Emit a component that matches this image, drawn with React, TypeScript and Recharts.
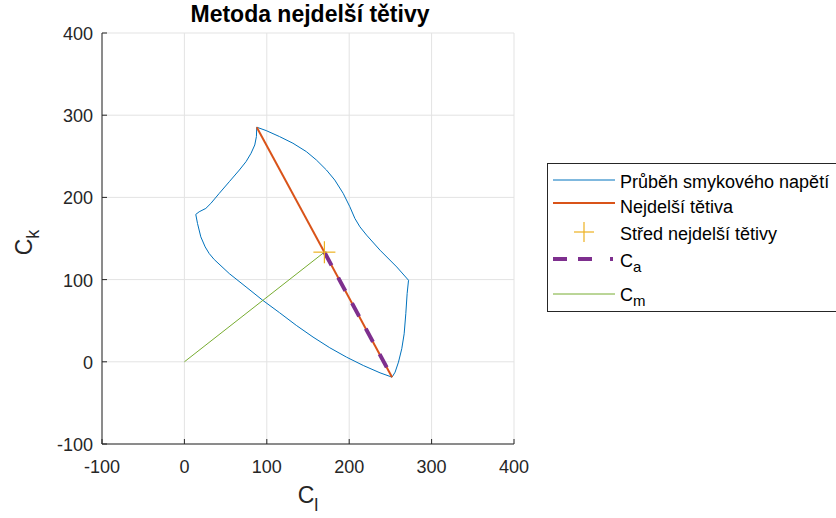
import React from 'react';
import { ComposedChart, Line, Scatter, XAxis, YAxis, CartesianGrid } from 'recharts';

// shear stress path (closed loop)
const shearX = [
  87.8, 87.4, 85.4, 80.9, 74.8, 66.7, 54.5, 42.3, 32.1, 26.0, 17.9, 13.8,
  15.9, 19.9, 25.2, 30.1, 36.2,
  54.5, 74.8, 95.1, 115.4, 135.8, 156.1, 176.4, 196.7, 217.1, 237.4, 252.0,
  255.7, 259.8, 263.8, 266.7, 268.7, 270.3, 272.0,
  257.7, 237.4, 221.1, 213.0, 206.9, 200.8, 192.7, 182.5, 172.4, 160.2, 148.0, 131.7, 115.4, 99.2, 87.8,
];
const shearY = [
  285.4, 274.0, 263.8, 253.7, 243.5, 233.3, 219.1, 204.9, 192.7, 186.6, 182.5, 179.3,
  168.3, 152.0, 139.8, 131.7, 124.4,
  107.3, 91.1, 74.8, 59.8, 44.3, 30.1, 17.1, 5.7, -4.5, -13.4, -18.7,
  -12.6, -0.4, 15.9, 34.1, 58.5, 82.9, 99.2,
  115.4, 135.8, 154.1, 164.2, 174.4, 188.6, 204.9, 221.1, 233.3, 245.5, 255.7, 265.9, 274.0, 281.3, 285.4,
];

const chordX = [87.8, 252.0];
const chordY = [285.4, -18.7];
const midX = [169.9];
const midY = [133.4];
const caX = [169.9, 252.0];
const caY = [133.4, -18.7];
const cmX = [0, 169.9];
const cmY = [0, 133.4];

const ticks = [-100, 0, 100, 200, 300, 400];

const legendNames = ['Průběh smykového napětí', 'Nejdelší tětiva', 'Střed nejdelší tětivy', 'C', 'C'];

const zip = (xs: number[], ys: number[]) => xs.map((x, i) => ({ x, y: ys[i] }));
const shear = zip(shearX, shearY);
const chord = zip(chordX, chordY);
const mid = zip(midX, midY);
const ca = zip(caX, caY);
const cm = zip(cmX, cmY);

const FONT = '"Liberation Sans", Arial, Helvetica, sans-serif';
const AX = '#262626';

const BottomTick = (p: any) => (
  <g>
    <line x1={p.x} y1={p.y} x2={p.x} y2={p.y - 5} stroke={AX} />
    <text x={p.x} y={p.y + 29} textAnchor="middle" fontSize={18} fill={AX} fontFamily={FONT}>
      {p.payload.value}
    </text>
  </g>
);
const LeftTick = (p: any) => (
  <g>
    <line x1={p.x} y1={p.y} x2={p.x + 5} y2={p.y} stroke={AX} />
    <text x={p.x - 9} y={p.y + 7} textAnchor="end" fontSize={18} fill={AX} fontFamily={FONT}>
      {p.payload.value}
    </text>
  </g>
);
const TopTick = (p: any) => <line x1={p.x} y1={p.y} x2={p.x} y2={p.y + 5} stroke={AX} />;
const RightTick = (p: any) => <line x1={p.x} y1={p.y} x2={p.x - 5} y2={p.y} stroke={AX} />;

const PlusMark = (p: any) => (
  <g stroke="#EDB120" strokeWidth={1.2}>
    <line x1={p.cx - 11} y1={p.cy} x2={p.cx + 11} y2={p.cy} />
    <line x1={p.cx} y1={p.cy - 11} x2={p.cx} y2={p.cy + 11} />
  </g>
);

const XLabel = (p: any) => {
  const vb = p.viewBox;
  return (
    <text x={vb.x + vb.width / 2} y={vb.y + 59} textAnchor="middle" fontSize={23} fill={AX} fontFamily={FONT}>
      C<tspan fontSize={18} dy={8}>l</tspan>
    </text>
  );
};
const YLabel = (p: any) => {
  const vb = p.viewBox;
  const cx = 32;
  const cy = vb.y + vb.height / 2 + 4;
  return (
    <text x={cx} y={cy} transform={`rotate(-90 ${cx} ${cy})`} textAnchor="middle" fontSize={23} fill={AX} fontFamily={FONT}>
      C<tspan fontSize={18} dy={7}>k</tspan>
    </text>
  );
};

const Legend = () => (
  <svg width={300} height={149} style={{ position: 'absolute', left: 547, top: 163 }}>
    <rect x={0.5} y={0.5} width={320} height={148} fill="#fff" stroke={AX} />
    <g fontFamily={FONT} fontSize={18} fill="#000">
      <line x1={6} y1={17} x2={68} y2={17} stroke="#0072BD" strokeWidth={1} />
      <text x={73} y={25}>{legendNames[0]}</text>
      <line x1={6} y1={40} x2={68} y2={40} stroke="#D95319" strokeWidth={2} />
      <text x={73} y={50}>{legendNames[1]}</text>
      <line x1={27} y1={69} x2={47} y2={69} stroke="#EDB120" strokeWidth={1.2} />
      <line x1={37} y1={59} x2={37} y2={79} stroke="#EDB120" strokeWidth={1.2} />
      <text x={73} y={77}>{legendNames[2]}</text>
      <line x1={6} y1={96} x2={68} y2={96} stroke="#7E2F8E" strokeWidth={4} strokeDasharray="14 11 14 18 3 10" />
      <text x={73} y={104}>
        {legendNames[3]}
        <tspan fontSize={15} dy={5}>a</tspan>
      </text>
      <line x1={6} y1={131} x2={68} y2={131} stroke="#77AC30" strokeWidth={1} />
      <text x={73} y={138}>
        {legendNames[4]}
        <tspan fontSize={15} dy={5}>m</tspan>
      </text>
    </g>
  </svg>
);

export default function App() {
  return (
    <div style={{ position: 'absolute', left: 0, top: 0, width: 836, height: 518, overflow: 'hidden', background: '#fff' }}>
      <svg width={836} height={30} style={{ position: 'absolute', left: 0, top: 0 }}>
        <text x={310} y={22} textAnchor="middle" fontFamily={FONT} fontWeight="bold" fontSize={23} fill="#000">
          Metoda nejdelší tětivy
        </text>
      </svg>
      <div style={{ position: 'absolute', left: 0, top: 0 }}>
        <ComposedChart width={836} height={518} margin={{ top: 33, right: 322, bottom: 14, left: 42 }}>
          <CartesianGrid stroke="#e3e3e3" />
          <XAxis
            type="number"
            dataKey="x"
            domain={[-100, 400]}
            ticks={ticks}
            tickSize={0}
            tickMargin={0}
            height={60}
            tick={BottomTick}
            axisLine={{ stroke: AX }}
            label={<XLabel />}
          />
          <XAxis
            xAxisId="top"
            orientation="top"
            type="number"
            dataKey="x"
            domain={[-100, 400]}
            ticks={ticks}
            tickSize={0}
            height={0}
            tick={TopTick}
            axisLine={{ stroke: AX }}
          />
          <YAxis
            type="number"
            dataKey="y"
            domain={[-100, 400]}
            ticks={ticks}
            tickSize={0}
            tickMargin={0}
            width={60}
            tick={LeftTick}
            axisLine={{ stroke: AX }}
            label={<YLabel />}
          />
          <YAxis
            yAxisId="right"
            orientation="right"
            type="number"
            dataKey="y"
            domain={[-100, 400]}
            ticks={ticks}
            tickSize={0}
            width={0}
            tick={RightTick}
            axisLine={{ stroke: AX }}
          />
          <Line data={shear} dataKey="y" type="linear" stroke="#0072BD" strokeWidth={1} dot={false} isAnimationActive={false} />
          <Line data={cm} dataKey="y" type="linear" stroke="#77AC30" strokeWidth={1} dot={false} isAnimationActive={false} />
          <Line data={chord} dataKey="y" type="linear" stroke="#D95319" strokeWidth={2} dot={false} isAnimationActive={false} />
          <Line
            data={ca}
            dataKey="y"
            type="linear"
            stroke="#7E2F8E"
            strokeWidth={4}
            strokeDasharray="15 14"
            dot={false}
            isAnimationActive={false}
          />
          <Scatter data={mid} dataKey="y" shape={PlusMark} isAnimationActive={false} />
        </ComposedChart>
      </div>
      <Legend />
    </div>
  );
}
